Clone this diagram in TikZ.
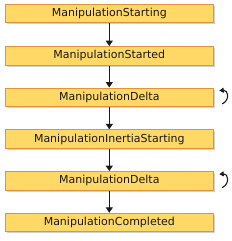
\documentclass[tikz,border=0pt]{standalone}
\usepackage{fontspec}
\setmainfont{DejaVu Sans}
\usetikzlibrary{arrows.meta,shadows}
\definecolor{boxfill}{HTML}{FFD866}
\definecolor{boxline}{HTML}{E5933A}
\definecolor{arr}{HTML}{1A1A1A}
\begin{document}
\begin{tikzpicture}[x=1pt,y=-1pt,
  evbox/.style={draw=boxline,fill=boxfill,line width=0.9pt,minimum width=208pt,minimum height=18.5pt,
    inner sep=0pt,font=\fontsize{11}{12}\selectfont,text=black!90,
    drop shadow={shadow xshift=1.6pt,shadow yshift=-1.6pt,fill=black,opacity=0.18}},
  flow/.style={draw=arr,line width=1.3pt,-{Triangle[length=5.5pt,width=7pt]}},
  loop/.style={draw=arr,line width=1.1pt,{Triangle[length=4.5pt,width=5pt]}-}]
\useasboundingbox (0,0) rectangle (231,241);
\node[evbox] (a) at (109.3,13.5) {ManipulationStarting};
\node[evbox] (b) at (109.3,55.8) {ManipulationStarted};
\node[evbox] (c) at (109.3,97.2) {ManipulationDelta};
\node[evbox] (d) at (109.3,139) {ManipulationInertiaStarting};
\node[evbox] (e) at (109.3,180.8) {ManipulationDelta};
\node[evbox] (f) at (109.3,222.5) {ManipulationCompleted};
\draw[flow] (a) -- (b);
\draw[flow] (b) -- (c);
\draw[flow] (c) -- (d);
\draw[flow] (d) -- (e);
\draw[flow] (e) -- (f);
\coordinate (c1) at ([xshift=5.5pt,yshift=6.5pt]c.east);
\coordinate (c2) at ([xshift=8.5pt,yshift=-6.8pt]c.east);
\draw[loop] (c1) .. controls +(9,-1) and +(8,-4) .. (c2);
\coordinate (e1) at ([xshift=5.5pt,yshift=6.5pt]e.east);
\coordinate (e2) at ([xshift=8.5pt,yshift=-6.8pt]e.east);
\draw[loop] (e1) .. controls +(9,-1) and +(8,-4) .. (e2);
\end{tikzpicture}
\end{document}
